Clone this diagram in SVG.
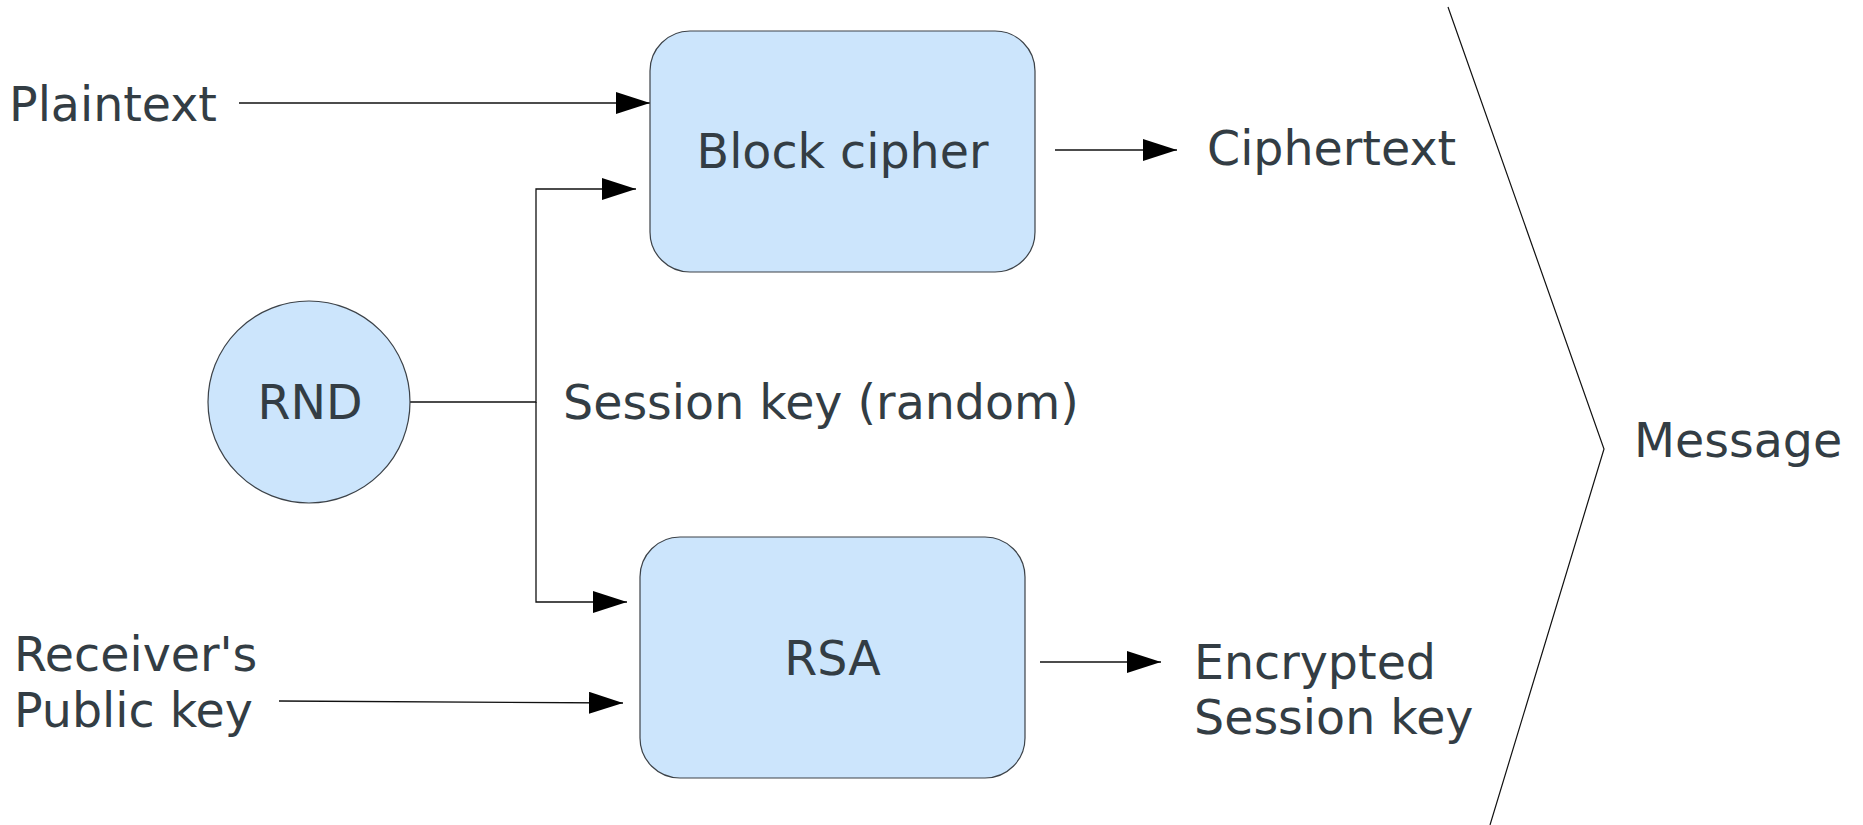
<svg xmlns="http://www.w3.org/2000/svg" width="1863" height="825" viewBox="0 0 1863 825">
<style>
text{font-family:"DejaVu Sans","Liberation Sans",sans-serif;font-size:47.5px;fill:#333d44}
.box{fill:#cce5fc;stroke:#3c4248;stroke-width:1.2}
.ln{fill:none;stroke:#111;stroke-width:1.3}
</style>
<defs>
<marker id="ah" markerUnits="userSpaceOnUse" markerWidth="34" markerHeight="22" refX="34" refY="11" orient="auto" viewBox="0 0 34 22">
<path d="M0,0 L34,11 L0,22 z" fill="#000"/>
</marker>
</defs>
<rect width="1863" height="825" fill="#fff"/>
<g id="connectors">
<line class="ln" x1="239" y1="103" x2="650" y2="103" marker-end="url(#ah)"/>
<polyline class="ln" points="410,402 536,402 536,189 636,189" marker-end="url(#ah)"/>
<polyline class="ln" points="536,402 536,602 627,602" marker-end="url(#ah)"/>
<line class="ln" x1="279" y1="701" x2="623" y2="703" marker-end="url(#ah)"/>
<line class="ln" x1="1055" y1="150" x2="1177" y2="150" marker-end="url(#ah)"/>
<line class="ln" x1="1040" y1="662" x2="1161" y2="662" marker-end="url(#ah)"/>
</g>
<g id="plaintext"><text x="9" y="121">Plaintext</text></g>
<g id="block-cipher">
<rect class="box" x="650" y="31" width="385" height="241" rx="40" ry="40"/>
<text x="842.5" y="168" text-anchor="middle">Block cipher</text>
</g>
<g id="ciphertext"><text x="1207" y="165">Ciphertext</text></g>
<g id="rnd">
<circle class="box" cx="309" cy="402" r="101"/>
<text x="310" y="419" text-anchor="middle">RND</text>
</g>
<g id="session-key"><text x="563" y="419">Session key (random)</text></g>
<g id="rsa">
<rect class="box" x="640" y="537" width="385" height="241" rx="40" ry="40"/>
<text x="832.5" y="675" text-anchor="middle">RSA</text>
</g>
<g id="public-key">
<text x="14" y="671">Receiver's</text>
<text x="14" y="727">Public key</text>
</g>
<g id="encrypted-key">
<text x="1194" y="679">Encrypted</text>
<text x="1194" y="734">Session key</text>
</g>
<g id="message">
<polyline class="ln" points="1448,7 1604,449 1490,825" style="stroke-width:1.2"/>
<text x="1634" y="457">Message</text>
</g>
</svg>
